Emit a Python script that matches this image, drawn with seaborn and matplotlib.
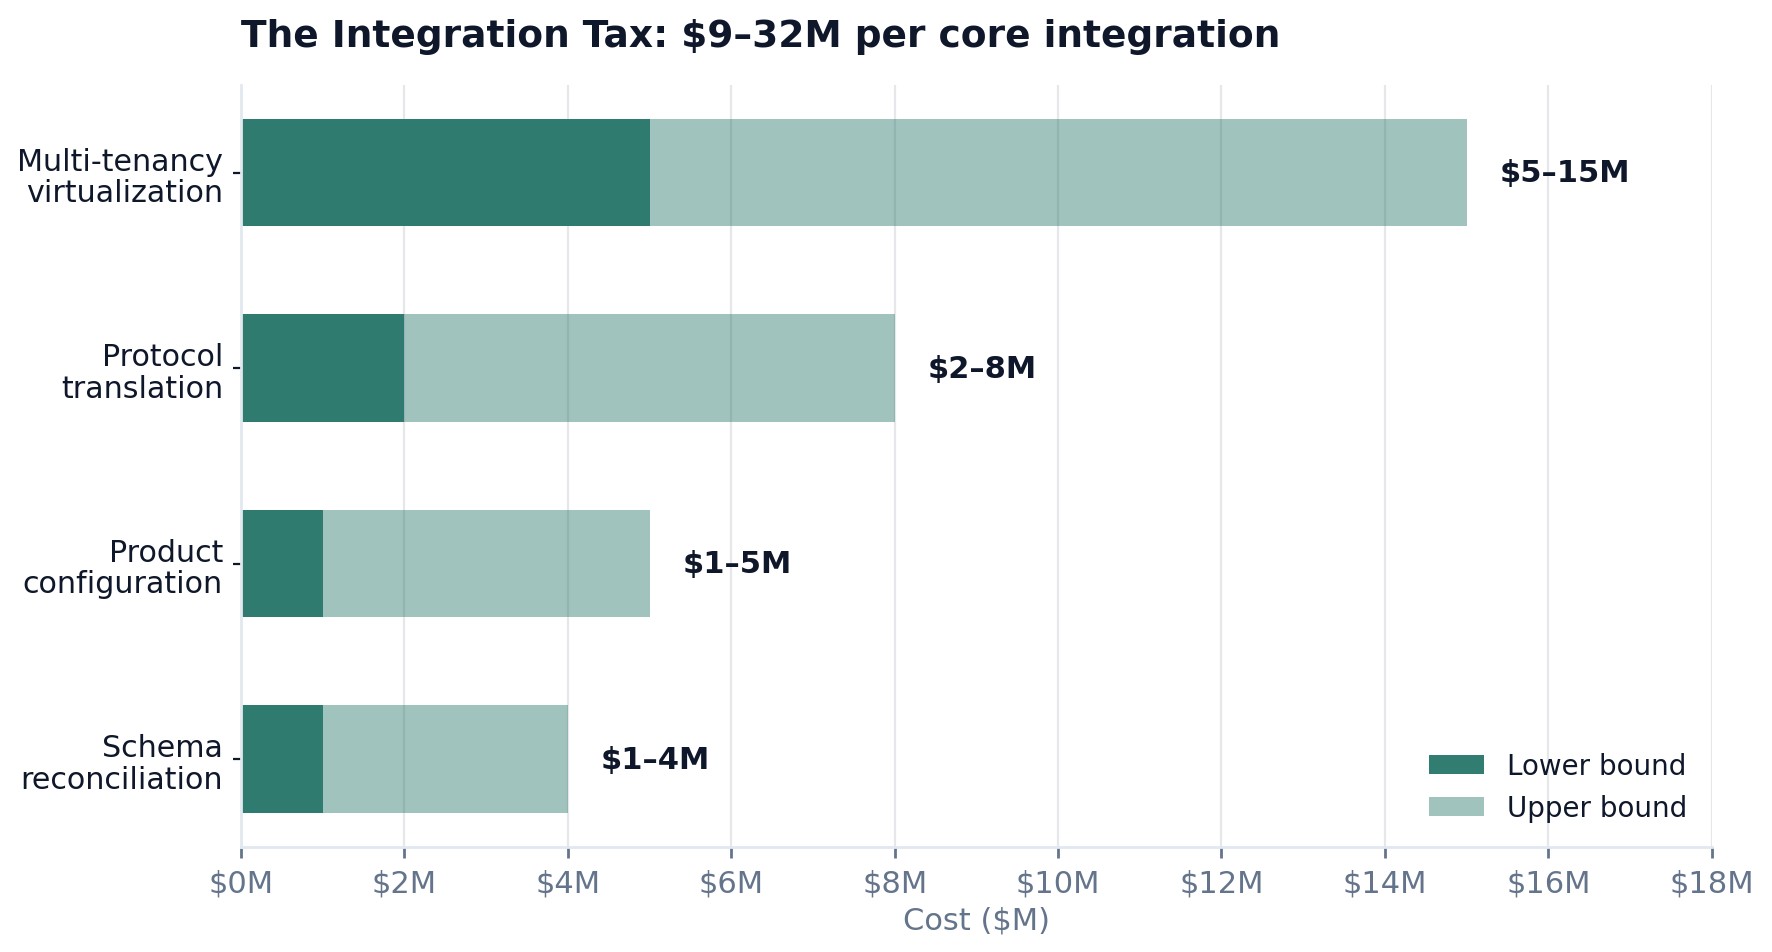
import seaborn as sns
import matplotlib.pyplot as plt
import pandas as pd


# Date: costuri de integrare (milioane $)

categorii = ["Multi-tenancy\nvirtualization", "Protocol\ntranslation",
             "Product\nconfiguration", "Schema\nreconciliation"]
limita_jos = [5, 2, 1, 1]
limita_sus = [15, 8, 5, 4]
etichete = ["$5–15M", "$2–8M", "$1–5M", "$1–4M"]

df = pd.DataFrame({"Categorie": categorii, "Jos": limita_jos, "Sus": limita_sus})

verde = "#2d7a6e"
text_inchis = "#0f172a"
gri = "#64748b"

sns.set_theme(style="white")
plt.rcParams["font.family"] = ["DejaVu Sans"]

fig, ax = plt.subplots(figsize=(8.86, 4.765), dpi=200)

sns.barplot(data=df, x="Sus", y="Categorie", orient="h", color=verde,
            saturation=1, alpha=0.45, width=0.55, linewidth=0,
            label="Upper bound", ax=ax, zorder=2)
sns.barplot(data=df, x="Jos", y="Categorie", orient="h", color=verde,
            saturation=1, alpha=0.98, width=0.55, linewidth=0,
            label="Lower bound", ax=ax, zorder=2)

for i, (sus, txt) in enumerate(zip(limita_sus, etichete)):
    ax.text(sus + 0.4, i, txt, va="center", ha="left", fontsize=11,
            fontweight="bold", color=text_inchis)

ax.set_xlim(0, 18)
ax.set_ylim(3.45, -0.45)
ax.set_xticks(range(0, 19, 2))
ax.set_xticklabels([f"${v}M" for v in range(0, 19, 2)])
ax.xaxis.grid(True, color="#e5e7eb", linewidth=0.8)
ax.set_axisbelow(True)

ax.set_xlabel("Cost ($M)", fontsize=11, color=gri, labelpad=3)
ax.set_ylabel("")
ax.tick_params(axis="x", colors=gri, labelsize=11, length=4, width=1, bottom=True)
ax.tick_params(axis="y", colors=text_inchis, labelsize=10.85, length=3, width=0.8, left=True)
for lbl in ax.get_yticklabels():
    lbl.set_linespacing(1.1)

for s in ["top", "right"]:
    ax.spines[s].set_visible(False)
for s in ["left", "bottom"]:
    ax.spines[s].set_color("#e2e8f0")
    ax.spines[s].set_linewidth(1)

ax.set_title("The Integration Tax: $9–32M per core integration", loc="left",
             fontsize=13.5, fontweight="bold", color=text_inchis, pad=14)

handles, labels = ax.get_legend_handles_labels()
order = [labels.index("Lower bound"), labels.index("Upper bound")]
leg = ax.legend([handles[k] for k in order], [labels[k] for k in order],
                loc="lower right", frameon=False, fontsize=10)
for t in leg.get_texts():
    t.set_color(text_inchis)

plt.subplots_adjust(left=0.136, right=0.966, top=0.91, bottom=0.11)
plt.savefig("out.png", dpi=200)
